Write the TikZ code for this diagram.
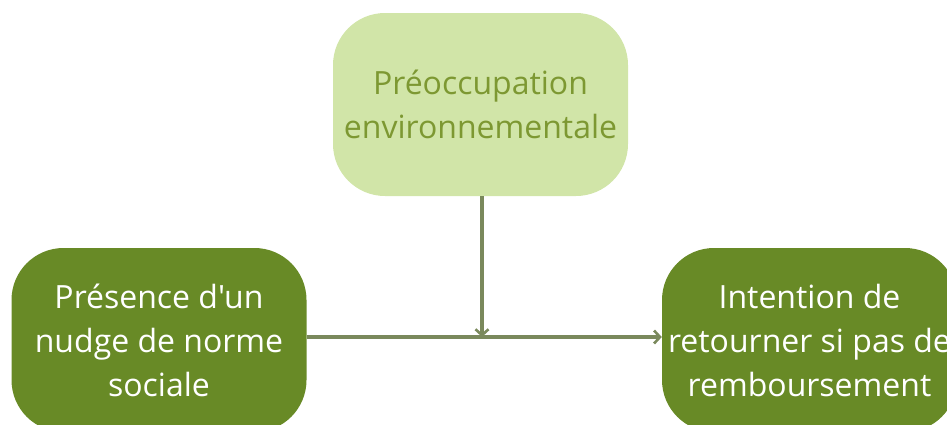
\documentclass[tikz,border=0pt]{standalone}
\usepackage{fontspec}
\newfontfamily\opensans{Open Sans}
\usetikzlibrary{arrows.meta}
\definecolor{lightbox}{RGB}{209,229,168}
\definecolor{lighttext}{RGB}{125,152,50}
\definecolor{darkbox}{RGB}{104,138,38}
\definecolor{linkcol}{RGB}{122,137,92}
\begin{document}
\begin{tikzpicture}[x=1pt,y=-1pt,
  boxbase/.style={rounded corners=52pt, minimum width=295pt, minimum height=184pt, inner sep=0pt, align=center, font=\opensans\fontsize{32}{44}\selectfont},
  lightnode/.style={boxbase, fill=lightbox, text=lighttext},
  darknode/.style={boxbase, fill=darkbox, text=white},
  link/.style={draw=linkcol, line width=3.2pt, -{Straight Barb[length=6pt,width=13pt,line width=2.6pt]}}
]
\useasboundingbox (0,0) rectangle (947,424);
\begin{scope}
\clip (0,0) rectangle (947,424);
\node[lightnode, minimum height=183pt] (top) at (480.5,104.5) {Préoccupation\\environnementale};
\node[darknode] (left) at (159,340) {Présence d'un\\nudge de norme\\sociale};
\node[darknode] (right) at (809.5,340) {Intention de\\retourner si pas de\\remboursement};
\coordinate (meet) at (482,337);
\draw[link] (left.east |- meet) -- (right.west |- meet);
\draw[link] (top.south -| meet) -- (meet);
\end{scope}
\end{tikzpicture}
\end{document}
